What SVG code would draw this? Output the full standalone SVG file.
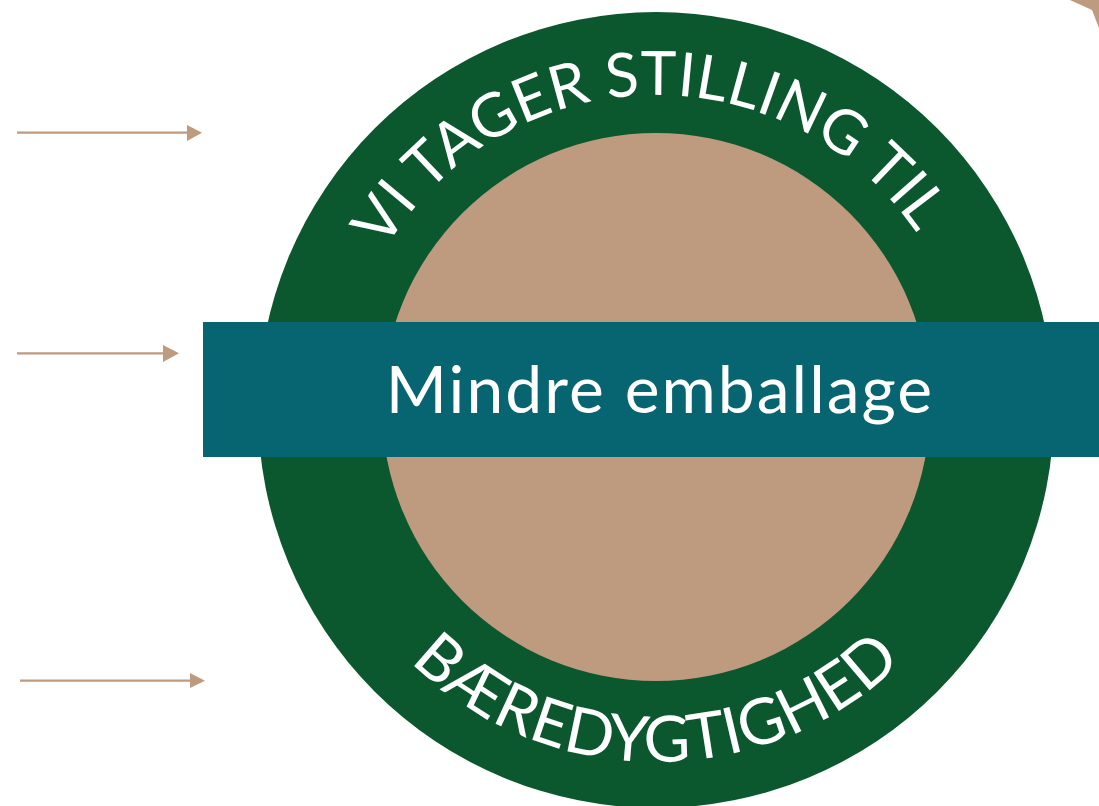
<svg xmlns="http://www.w3.org/2000/svg" width="1099" height="806" viewBox="0 0 1099 806">
  <style>
    .arrow-line { stroke: #BE9A7E; stroke-width: 2.2; fill: none; }
    .arrow-head { fill: #BE9A7E; }
    .ring-text { font-family: Lato, "Open Sans", "Liberation Sans", sans-serif; fill: #FFFFFF; }
    .band-text { font-family: Lato, "Open Sans", "Liberation Sans", sans-serif; font-size: 66px; letter-spacing: 2px; fill: #FFFFFF; }
  </style>
  <defs>
    <!-- baseline arcs for the ring captions -->
    <path id="arcTop" d="M 341 410 A 315 315 0 0 1 971 410"/>
    <path id="arcBottom" d="M 304 410 A 352 352 0 0 0 1008 410"/>
  </defs>

  <rect width="1099" height="806" fill="#FFFFFF"/>

  <g id="ring">
    <circle cx="656" cy="410" r="398" fill="#0B572E"/>
    <circle cx="656" cy="407" r="274" fill="#BE9A7F"/>
  </g>

  <g id="ring-captions">
    <text class="ring-text" font-size="61" text-anchor="middle"><textPath href="#arcTop" startOffset="49%">VI TAGER STILLING TIL</textPath></text>
    <text class="ring-text" font-size="64" text-anchor="middle"><textPath href="#arcBottom" startOffset="50%">BÆREDYGTIGHED</textPath></text>
  </g>

  <g id="band">
    <rect x="203" y="322" width="896" height="135" fill="#076471"/>
    <text class="band-text" x="660" y="413" text-anchor="middle">Mindre emballage</text>
  </g>

  <g id="connectors">
    <line class="arrow-line" x1="17" y1="132.7" x2="188" y2="132.7"/>
    <polygon class="arrow-head" points="187,125 202,132.7 187,141"/>
    <line class="arrow-line" x1="17" y1="353.3" x2="164" y2="353.3"/>
    <polygon class="arrow-head" points="163,345 179,353.3 163,362"/>
    <line class="arrow-line" x1="20" y1="680.7" x2="191" y2="680.7"/>
    <polygon class="arrow-head" points="190,673 205,680.7 190,688"/>
    <polygon class="arrow-head" points="1070,0 1092,10 1099,28 1099,0"/>
  </g>
</svg>
